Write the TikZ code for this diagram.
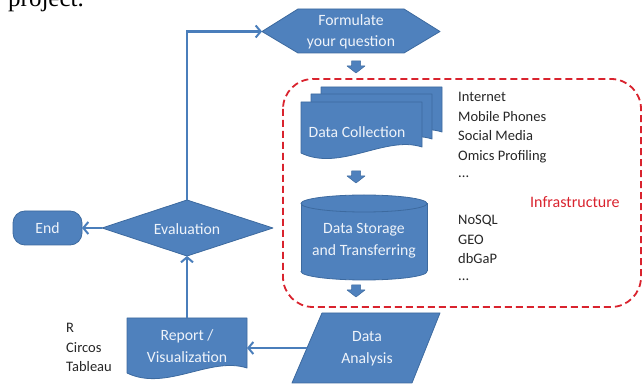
\documentclass[tikz,border=0pt]{standalone}
\usepackage{fontspec}
\setmainfont{Carlito}
\newfontfamily\serifx{Liberation Serif}
\usetikzlibrary{arrows.meta}
\definecolor{boxblue}{HTML}{4F81BD}
\definecolor{boxedge}{HTML}{3D6A9F}
\definecolor{linkblue}{HTML}{4A7EBB}
\definecolor{infrared}{HTML}{D9232E}
\definecolor{shapetext}{HTML}{EEF3FA}
\definecolor{listgray}{HTML}{262626}
\begin{document}
\begin{tikzpicture}[x=1pt,y=-1pt,
  shapefill/.style={fill=boxblue,draw=boxedge,line width=0.8pt,line join=round},
  shapelabel/.style={text=shapetext,font=\fontsize{15.7}{21.6}\selectfont,align=center,inner sep=0pt},
  listtext/.style={text=listgray,font=\fontsize{14.5}{19.5}\selectfont,anchor=base west,inner sep=0pt},
  link/.style={draw=linkblue,line width=2.4pt,-{Straight Barb[length=5pt,width=12pt,line width=2pt]}},
  blockarrow/.style={fill=boxblue,draw=boxedge,line width=0.5pt,line join=round},
  downblock/.pic={\path[blockarrow] (-4.5,0) -- (4.5,0) -- (4.5,5) -- (9,5) -- (0,12) -- (-9,5) -- (-4.5,5) -- cycle;}
]
\useasboundingbox (0,0) rectangle (643,387);
\clip (0,0) rectangle (643,387);

% clipped heading text
\node[font=\serifx\fontsize{25}{25}\selectfont,anchor=base west,inner sep=0pt] (proj) at (8,7) {project.};

% infrastructure frame
\draw[infrared,line width=1.8pt,dash pattern=on 7pt off 4pt,rounded corners=30pt] (283,79) rectangle (641,307);
\node[text=infrared,font=\fontsize{16}{19}\selectfont,anchor=base west,inner sep=0pt] (infra) at (530,208) {Infrastructure};

% Formulate hexagon
\path[shapefill] (262,31.5) -- (298,9) -- (404,9) -- (440,31.5) -- (404,53) -- (298,53) -- cycle;
\node[shapelabel] (form) at (351,32) {Formulate\\your question};
\coordinate (hexW) at (262,31.5);

% Data Collection (multi-document)
\path[shapefill] (321,87) -- (442,87) -- (442,132) .. controls (405,120) and (360,157) .. (321,138) -- cycle;
\path[shapefill] (311,94) -- (432,94) -- (432,139) .. controls (395,127) and (350,164) .. (311,145) -- cycle;
\path[shapefill] (301,102) -- (422,102) -- (422,147) .. controls (385,135) and (340,172) .. (301,153) -- cycle;
\node[shapelabel] (collect) at (357,132) {Data Collection};

% Data Storage cylinder
\path[shapefill] (364,271.5) ellipse[x radius=63,y radius=8.5];
\path[fill=boxblue] (301,203.5) rectangle (427,271.5);
\draw[boxedge,line width=0.8pt] (301,203.5) -- (301,271.5) (427,203.5) -- (427,271.5);
\path[shapefill] (364,203.5) ellipse[x radius=63,y radius=8.5];
\node[shapelabel] (storage) at (364,241) {Data Storage\\and Transferring};

% Data Analysis parallelogram
\path[shapefill] (322,313) -- (440,313) -- (412,383) -- (292,383) -- cycle;
\node[shapelabel] (analysis) at (367,349) {Data\\Analysis};
\coordinate (anaW) at (307,348);

% Report / Visualization document
\path[shapefill] (127,318) -- (247,318) -- (247,368) .. controls (210,356) and (166,392) .. (127,373) -- cycle;
\node[shapelabel] (report) at (187,346) {Report /\\Visualization};
\coordinate (repN) at (187,318);
\coordinate (repE) at (247,348);

% Evaluation diamond
\path[shapefill] (102,228) -- (187,200) -- (273,228) -- (187,256) -- cycle;
\node[shapelabel] (eval) at (187,229) {Evaluation};
\coordinate (evalN) at (187,200);
\coordinate (evalS) at (187,256);
\coordinate (evalW) at (102,228);

% End terminator
\path[shapefill,rounded corners=12pt] (13,211) rectangle (82,245);
\node[shapelabel] (endnode) at (47.5,228.5) {End};
\coordinate (endE) at (82,228);

% block arrows
\pic at (356,61) {downblock};
\pic at (356,171) {downblock};
\pic at (356,285) {downblock};

% connectors
\draw[link] (evalN) |- (hexW);
\draw[link] (evalW) -- (endE);
\draw[link] (repN) -- (evalS);
\draw[link] (anaW) -- (repE);

% lists
\node[listtext] (l1) at (458,102) {Internet};
\node[listtext] (l2) at (458,121.5) {Mobile Phones};
\node[listtext] (l3) at (458,141) {Social Media};
\node[listtext] (l4) at (458,160.5) {Omics Profiling};
\node[listtext] (l5) at (458,178) {...};
\node[listtext] (s1) at (458,225) {NoSQL};
\node[listtext] (s2) at (458,245) {GEO};
\node[listtext] (s3) at (458,264) {dbGaP};
\node[listtext] (s4) at (458,281) {...};
\node[listtext] (t1) at (66,333) {R};
\node[listtext] (t2) at (66,352.5) {Circos};
\node[listtext] (t3) at (66,372) {Tableau};
\end{tikzpicture}
\end{document}
